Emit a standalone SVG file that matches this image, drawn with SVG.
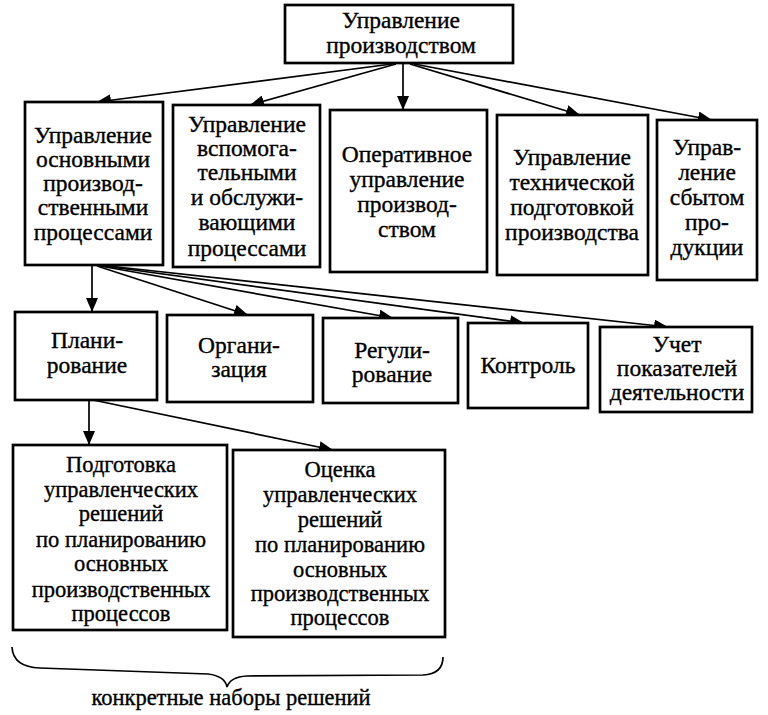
<svg xmlns="http://www.w3.org/2000/svg" width="768" height="715" viewBox="0 0 768 715">
<style>
.box{fill:#fff;stroke:#000;stroke-width:2.7}
text{font-family:'Liberation Serif','Times New Roman','DejaVu Serif',serif;fill:#000;text-anchor:middle;stroke:#000;stroke-width:0.35}
.t{font-size:23.5px}
.tb{font-size:22.5px}
.c{stroke:#000;stroke-width:1.7;fill:none}
</style>
<defs>
<marker id="ah" markerUnits="userSpaceOnUse" markerWidth="14" markerHeight="12" refX="14" refY="6" orient="auto">
<path d="M0,0 L14,6 L0,12 Z" fill="#000"/>
</marker>
</defs>
<rect width="768" height="715" fill="#fff"/>
<g id="connectors">
<line class="c" x1="392" y1="64" x2="97" y2="102" marker-end="url(#ah)"/>
<line class="c" x1="396" y1="64" x2="250" y2="105" marker-end="url(#ah)"/>
<line class="c" x1="403" y1="64" x2="403" y2="110" marker-end="url(#ah)"/>
<line class="c" x1="410" y1="64" x2="580" y2="115" marker-end="url(#ah)"/>
<line class="c" x1="414" y1="64" x2="712" y2="120" marker-end="url(#ah)"/>
<line class="c" x1="92" y1="266" x2="92" y2="312" marker-end="url(#ah)"/>
<line class="c" x1="97" y1="266" x2="248" y2="315" marker-end="url(#ah)"/>
<line class="c" x1="100" y1="266" x2="393" y2="318" marker-end="url(#ah)"/>
<line class="c" x1="104" y1="266" x2="524" y2="323" marker-end="url(#ah)"/>
<line class="c" x1="108" y1="266" x2="668" y2="327" marker-end="url(#ah)"/>
<line class="c" x1="89" y1="400" x2="89" y2="445" marker-end="url(#ah)"/>
<line class="c" x1="93" y1="400" x2="333" y2="450" marker-end="url(#ah)"/>
</g>
<g id="n0"><rect class="box" x="285" y="5" width="228" height="58"/>
<text class="t" x="401" y="28">Управление</text><text class="t" x="401" y="53">производством</text></g>
<g id="n1"><rect class="box" x="25" y="102" width="138" height="163"/>
<text class="t" x="93" y="143">Управление</text><text class="t" x="93" y="167">основными</text><text class="t" x="93" y="191">производ-</text><text class="t" x="93" y="215">ственными</text><text class="t" x="93" y="240">процессами</text></g>
<g id="n2"><rect class="box" x="173" y="105" width="147" height="162"/>
<text class="t" x="247" y="132">Управление</text><text class="t" x="247" y="156">вспомога-</text><text class="t" x="247" y="180">тельными</text><text class="t" x="247" y="205">и обслужи-</text><text class="t" x="247" y="230">вающими</text><text class="t" x="247" y="256">процессами</text></g>
<g id="n3"><rect class="box" x="330" y="110" width="157" height="162"/>
<text class="t" x="407" y="162">Оперативное</text><text class="t" x="407" y="187">управление</text><text class="t" x="407" y="212">производ-</text><text class="t" x="407" y="237">ством</text></g>
<g id="n4"><rect class="box" x="497" y="115" width="151" height="160"/>
<text class="t" x="572" y="165">Управление</text><text class="t" x="572" y="190">технической</text><text class="t" x="572" y="215">подготовкой</text><text class="t" x="572" y="240">производства</text></g>
<g id="n5"><rect class="box" x="657" y="120" width="100" height="160"/>
<text class="t" x="707" y="155">Управ-</text><text class="t" x="707" y="180">ление</text><text class="t" x="707" y="205">сбытом</text><text class="t" x="707" y="230">про-</text><text class="t" x="707" y="255">дукции</text></g>
<g id="n6"><rect class="box" x="15" y="312" width="142" height="88"/>
<text class="t" x="87" y="348">Плани-</text><text class="t" x="87" y="373">рование</text></g>
<g id="n7"><rect class="box" x="167" y="315" width="146" height="87"/>
<text class="t" x="239" y="353">Органи-</text><text class="t" x="239" y="377">зация</text></g>
<g id="n8"><rect class="box" x="323" y="318" width="135" height="85"/>
<text class="t" x="392" y="358">Регули-</text><text class="t" x="392" y="382">рование</text></g>
<g id="n9"><rect class="box" x="468" y="323" width="120" height="85"/>
<text class="t" x="528" y="373">Контроль</text></g>
<g id="n10"><rect class="box" x="600" y="327" width="152" height="85"/>
<text class="t" x="677" y="352">Учет</text><text class="t" x="677" y="376">показателей</text><text class="t" x="677" y="400">деятельности</text></g>
<g id="n11"><rect class="box" x="13" y="445" width="214" height="185"/>
<text class="tb" x="121" y="472">Подготовка</text><text class="tb" x="121" y="497">управленческих</text><text class="tb" x="121" y="521">решений</text><text class="tb" x="121" y="547">по планированию</text><text class="tb" x="121" y="571">основных</text><text class="tb" x="121" y="597">производственных</text><text class="tb" x="121" y="621">процессов</text></g>
<g id="n12"><rect class="box" x="233" y="450" width="212" height="187"/>
<text class="tb" x="340" y="477">Оценка</text><text class="tb" x="340" y="502">управленческих</text><text class="tb" x="340" y="527">решений</text><text class="tb" x="340" y="552">по планированию</text><text class="tb" x="340" y="577">основных</text><text class="tb" x="340" y="601">производственных</text><text class="tb" x="340" y="625">процессов</text></g>
<g id="brace">
<path d="M12,647 Q13,667 40,668 L208,674 Q225,676 227,687 Q230,677 247,676 L423,675 Q443,674 443,657" fill="none" stroke="#000" stroke-width="1.7"/>
<text class="tb" x="231" y="705">конкретные наборы решений</text>
</g>
</svg>
